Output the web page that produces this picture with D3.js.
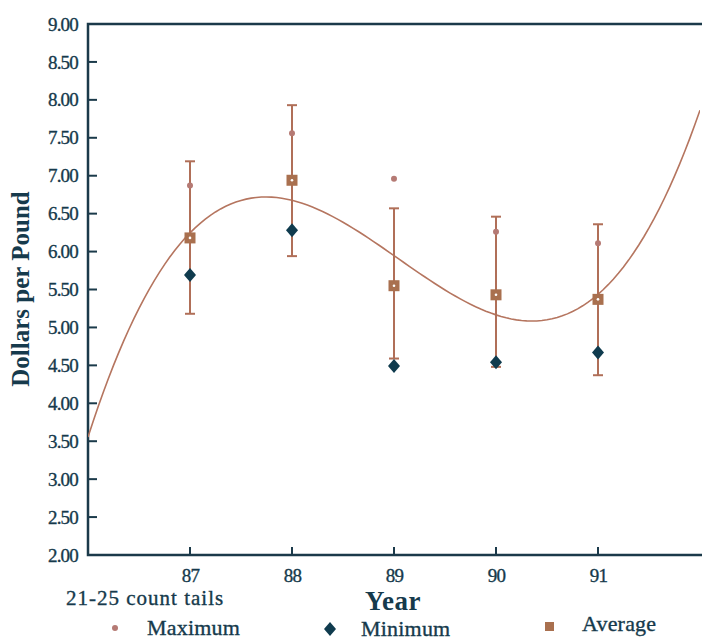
<!DOCTYPE html>
<html>
<head>
<meta charset="utf-8">
<script src="https://cdn.jsdelivr.net/npm/d3@7"></script>
<style>
  body { margin: 0; background: #fff; }
  text { font-family: "Liberation Serif", "DejaVu Serif", serif; fill: #163a4c; }
  .heavy { stroke: #163a4c; stroke-width: 0.35px; }
</style>
</head>
<body>
<script>
// données
const years = [87, 88, 89, 90, 91];
const maximum = [6.87, 7.56, 6.96, 6.26, 6.11];
const minimum = [5.69, 6.28, 4.49, 4.54, 4.67];
const average = [6.18, 6.94, 5.55, 5.43, 5.37];
const errHigh = [7.19, 7.93, 6.57, 6.46, 6.36];
const errLow = [5.18, 5.94, 4.59, 4.48, 4.37];
const yTicks = [2, 2.5, 3, 3.5, 4, 4.5, 5, 5.5, 6, 6.5, 7, 7.5, 8, 8.5, 9];

const brown = "#b06f58";
const teal = "#0f3b4e";
const axisColor = "#1b3a4a";

// marges
let margin = { top: 24, right: 2, bottom: 86, left: 88 };
let width = 702 - margin.left - margin.right,
    height = 641 - margin.top - margin.bottom;

let svg = d3.select("body").append("svg")
    .attr("width", 702)
    .attr("height", 641);

let g = svg.append("g")
    .attr("transform", "translate(" + margin.left + "," + margin.top + ")");

// échelles
let x = d3.scaleLinear().domain([86, 92]).range([0, 612]);
let y = d3.scaleLinear().domain([2, 9]).range([height, 0]);

// clip pour la courbe
svg.append("defs").append("clipPath").attr("id", "plot")
    .append("rect").attr("width", width).attr("height", height);

// axe Y
let ay = g.append("g")
    .call(d3.axisLeft(y).tickValues(yTicks).tickFormat(d3.format(".2f")).tickSize(0).tickPadding(10));
ay.select(".domain").remove();
ay.selectAll("text").attr("class", "heavy").style("font-size", "19px").style("letter-spacing", "-0.8px").attr("fill", "#163a4c");

// petits traits vers l'intérieur
g.selectAll(".ytick")
    .data(yTicks.filter(d => d > 2 && d < 9))
    .enter().append("line")
    .attr("x1", -1).attr("x2", 9)
    .attr("y1", d => y(d)).attr("y2", d => y(d))
    .attr("stroke", axisColor).attr("stroke-width", 2);

// axe X
let ax = g.append("g")
    .attr("transform", "translate(0," + height + ")")
    .call(d3.axisBottom(x).tickValues(years).tickFormat(d => d).tickSize(0).tickPadding(14));
ax.select(".domain").remove();
ax.selectAll("text").attr("class", "heavy").style("font-size", "19px").style("letter-spacing", "-0.8px").attr("fill", "#163a4c");

g.selectAll(".xtick")
    .data(years)
    .enter().append("line")
    .attr("x1", d => x(d)).attr("x2", d => x(d))
    .attr("y1", height).attr("y2", height - 8)
    .attr("stroke", axisColor).attr("stroke-width", 2);

// cadre
g.append("path")
    .attr("d", "M" + (width + 2) + ",0H0V" + height + "H" + (width + 2))
    .attr("fill", "none")
    .attr("stroke", axisColor)
    .attr("stroke-width", 2.5);

// courbe de tendance : régression cubique sur les moyennes
function cubicFit(xs, ys) {
    const n = 4;
    let A = [], b = [];
    for (let i = 0; i < n; i++) {
        A.push([]);
        for (let j = 0; j < n; j++) A[i].push(d3.sum(xs, v => Math.pow(v, i + j)));
        b.push(d3.sum(xs, (v, k) => ys[k] * Math.pow(v, i)));
    }
    for (let i = 0; i < n; i++) {
        for (let k = i + 1; k < n; k++) {
            let f = A[k][i] / A[i][i];
            for (let j = i; j < n; j++) A[k][j] -= f * A[i][j];
            b[k] -= f * b[i];
        }
    }
    let c = new Array(n).fill(0);
    for (let i = n - 1; i >= 0; i--) {
        let s = b[i];
        for (let j = i + 1; j < n; j++) s -= A[i][j] * c[j];
        c[i] = s / A[i][i];
    }
    return c;
}
const coef = cubicFit(years.map(v => v - 89), average);
const fit = t => coef[0] + coef[1] * t + coef[2] * t * t + coef[3] * t * t * t;

g.append("path")
    .datum(d3.range(86, 92.001, 0.05))
    .attr("clip-path", "url(#plot)")
    .attr("d", d3.line().x(d => x(d)).y(d => y(fit(d - 89))))
    .attr("fill", "none")
    .attr("stroke", "#b5755f")
    .attr("stroke-width", 1.6);

// barres d'erreur
let bars = g.selectAll(".err")
    .data(years)
    .enter().append("g");

bars.append("line")
    .attr("x1", d => x(d)).attr("x2", d => x(d))
    .attr("y1", (d, i) => y(errHigh[i])).attr("y2", (d, i) => y(errLow[i]))
    .attr("stroke", brown).attr("stroke-width", 2);

bars.append("line")
    .attr("x1", d => x(d) - 5).attr("x2", d => x(d) + 5)
    .attr("y1", (d, i) => y(errHigh[i])).attr("y2", (d, i) => y(errHigh[i]))
    .attr("stroke", brown).attr("stroke-width", 2);

bars.append("line")
    .attr("x1", d => x(d) - 5).attr("x2", d => x(d) + 5)
    .attr("y1", (d, i) => y(errLow[i])).attr("y2", (d, i) => y(errLow[i]))
    .attr("stroke", brown).attr("stroke-width", 2);

// maximum
g.selectAll(".max")
    .data(years)
    .enter().append("circle")
    .attr("cx", d => x(d))
    .attr("cy", (d, i) => y(maximum[i]))
    .attr("r", 3)
    .attr("fill", "#b57a74");

// minimum (losange)
g.selectAll(".min")
    .data(years)
    .enter().append("path")
    .attr("d", "M0,-7L6,0L0,7L-6,0Z")
    .attr("transform", (d, i) => "translate(" + x(d) + "," + y(minimum[i]) + ")")
    .attr("fill", teal);

// moyenne (carré)
g.selectAll(".avg")
    .data(years)
    .enter().append("rect")
    .attr("x", d => x(d) - 5.5)
    .attr("y", (d, i) => y(average[i]) - 5.5)
    .attr("width", 11).attr("height", 11)
    .attr("fill", "#a9704f");

g.selectAll(".avgdot")
    .data(years)
    .enter().append("circle")
    .attr("cx", d => x(d))
    .attr("cy", (d, i) => y(average[i]))
    .attr("r", 1.3)
    .attr("fill", "#fff");

// titres
svg.append("text")
    .text("Dollars per Pound")
    .attr("transform", "translate(29,289) rotate(-90)")
    .attr("text-anchor", "middle")
    .style("font-size", "25px")
    .style("font-weight", "bold");

svg.append("text")
    .text("Year")
    .attr("x", 393).attr("y", 610)
    .attr("text-anchor", "middle")
    .style("font-size", "27px")
    .style("letter-spacing", "0.5px")
    .style("font-weight", "bold");

svg.append("text")
    .text("21-25 count tails")
    .attr("class", "heavy")
    .attr("x", 66).attr("y", 605)
    .style("font-size", "21px")
    .style("letter-spacing", "1px");

// légende
svg.append("circle").attr("cx", 115).attr("cy", 628).attr("r", 3).attr("fill", "#b57a74");
svg.append("text").text("Maximum").attr("class", "heavy").attr("x", 147).attr("y", 635)
    .style("font-size", "22px").style("letter-spacing", "0.2px");

svg.append("path").attr("d", "M0,-7L6,0L0,7L-6,0Z")
    .attr("transform", "translate(330,629)").attr("fill", teal);
svg.append("text").text("Minimum").attr("class", "heavy").attr("x", 361).attr("y", 636)
    .style("font-size", "22px").style("letter-spacing", "0.2px");

svg.append("rect").attr("x", 545).attr("y", 622).attr("width", 9).attr("height", 9).attr("fill", "#a9704f");
svg.append("text").text("Average").attr("class", "heavy").attr("x", 582).attr("y", 631)
    .style("font-size", "22px").style("letter-spacing", "0.2px");
</script>
</body>
</html>
